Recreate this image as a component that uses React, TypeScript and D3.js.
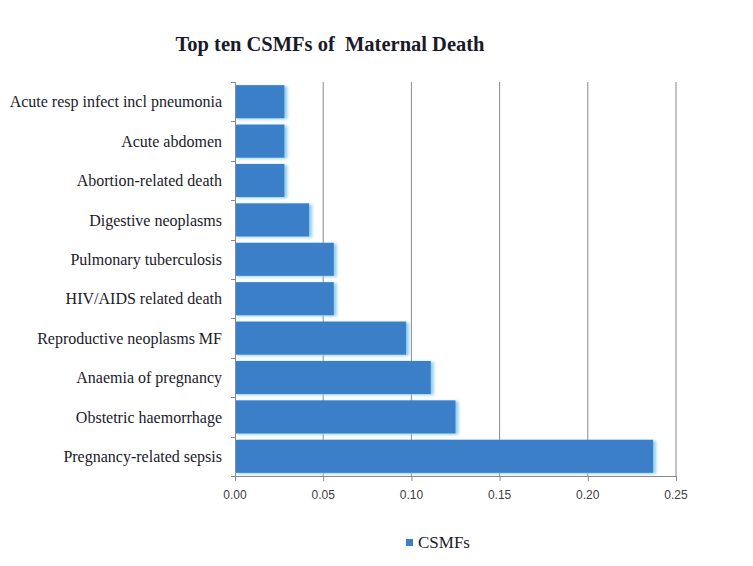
import { useEffect, useRef } from 'react';
import * as d3 from 'd3';

// causes, top to bottom as drawn
const causes = [
  'Acute resp infect incl pneumonia',
  'Acute abdomen',
  'Abortion-related death',
  'Digestive neoplasms',
  'Pulmonary tuberculosis',
  'HIV/AIDS related death',
  'Reproductive neoplasms MF',
  'Anaemia of pregnancy',
  'Obstetric haemorrhage',
  'Pregnancy-related sepsis',
];
const csmf = [0.028, 0.028, 0.028, 0.042, 0.056, 0.056, 0.097, 0.111, 0.125, 0.237];
const xTicks = [0, 0.05, 0.1, 0.15, 0.2, 0.25];

const W = 753;
const H = 566;
const margin = { top: 82, right: 77, bottom: 90, left: 235 };

export default function App() {
  const svgRef = useRef<SVGSVGElement>(null);

  useEffect(() => {
    if (!svgRef.current) return;
    const svg = d3.select(svgRef.current);
    svg.selectAll('*').remove();

    const x = d3.scaleLinear().domain([0, 0.25]).range([margin.left, W - margin.right]);
    const y = d3.scaleBand<string>().domain(causes).range([margin.top, H - margin.bottom]).paddingInner(0.16).paddingOuter(0.08);
    const bottom = H - margin.bottom;

    const defs = svg.append('defs');
    defs.append('filter').attr('id', 'glow').attr('x', '-10%').attr('y', '-20%').attr('width', '130%').attr('height', '140%')
      .append('feGaussianBlur').attr('stdDeviation', 1.6);

    // title
    svg.append('text')
      .attr('x', 330).attr('y', 51)
      .attr('text-anchor', 'middle')
      .style('font-family', '"Liberation Serif", "Times New Roman", serif')
      .style('font-weight', 'bold')
      .style('font-size', '20.5px')
      .style('white-space', 'pre')
      .attr('fill', '#1a1a2a')
      .text('Top ten CSMFs of  Maternal Death');

    // vertical gridlines
    svg.append('g').selectAll('line').data(xTicks.slice(1)).join('line')
      .attr('x1', d => x(d)).attr('x2', d => x(d))
      .attr('y1', margin.top).attr('y2', bottom)
      .attr('stroke', '#8a8a8a').attr('stroke-width', 1);

    // bars with light blue glow
    const bars = svg.append('g');
    bars.selectAll('rect.glow').data(causes).join('rect')
      .attr('class', 'glow')
      .attr('x', x(0) + 2)
      .attr('y', d => y(d)! + 1)
      .attr('width', (_d, i) => x(csmf[i]) - x(0) + 1)
      .attr('height', y.bandwidth())
      .attr('fill', '#8fd0f2')
      .attr('filter', 'url(#glow)');
    bars.selectAll('rect.bar').data(causes).join('rect')
      .attr('class', 'bar')
      .attr('x', x(0))
      .attr('y', d => y(d)!)
      .attr('width', (_d, i) => x(csmf[i]) - x(0))
      .attr('height', y.bandwidth())
      .attr('fill', '#3b7fc9');

    // y axis
    const yAxis = svg.append('g');
    yAxis.append('line')
      .attr('x1', margin.left + 0.5).attr('x2', margin.left + 0.5)
      .attr('y1', margin.top).attr('y2', bottom)
      .attr('stroke', '#8a8a8a');
    const bounds = d3.range(causes.length + 1).map(i => margin.top + i * (bottom - margin.top) / causes.length);
    yAxis.selectAll('line.tick').data(bounds).join('line')
      .attr('class', 'tick')
      .attr('x1', margin.left - 4).attr('x2', margin.left)
      .attr('y1', d => Math.round(d) + 0.5).attr('y2', d => Math.round(d) + 0.5)
      .attr('stroke', '#8a8a8a');
    yAxis.selectAll('text').data(causes).join('text')
      .attr('x', margin.left - 13)
      .attr('y', d => y(d)! + y.bandwidth() / 2)
      .attr('dy', '0.35em')
      .attr('text-anchor', 'end')
      .style('font-family', '"Liberation Serif", "Times New Roman", serif')
      .style('font-size', '16px')
      .attr('fill', '#1a1a2a')
      .text(d => d);

    // x axis
    const xAxis = svg.append('g');
    xAxis.append('line')
      .attr('x1', margin.left).attr('x2', x(0.25))
      .attr('y1', bottom + 0.5).attr('y2', bottom + 0.5)
      .attr('stroke', '#8a8a8a');
    xAxis.selectAll('line.tick').data(xTicks).join('line')
      .attr('class', 'tick')
      .attr('x1', d => x(d) + 0.5).attr('x2', d => x(d) + 0.5)
      .attr('y1', bottom).attr('y2', bottom + 5)
      .attr('stroke', '#8a8a8a');
    xAxis.selectAll('text').data(xTicks).join('text')
      .attr('x', d => x(d))
      .attr('y', bottom + 23)
      .attr('text-anchor', 'middle')
      .style('font-family', '"Liberation Sans", Arial, sans-serif')
      .style('font-size', '12px')
      .attr('fill', '#404040')
      .text(d => d3.format('.2f')(d));

    // legend
    const legend = svg.append('g');
    legend.append('rect')
      .attr('x', 406).attr('y', 539).attr('width', 7).attr('height', 7)
      .attr('fill', '#3b7fc9');
    legend.append('text')
      .attr('x', 418).attr('y', 548)
      .style('font-family', '"Liberation Serif", "Times New Roman", serif')
      .style('font-size', '17px')
      .attr('fill', '#1a1a2a')
      .text('CSMFs');
  }, []);

  return (
    <svg
      ref={svgRef}
      width={W}
      height={H}
      style={{ position: 'absolute', left: 0, top: 0, background: '#fff' }}
    />
  );
}
